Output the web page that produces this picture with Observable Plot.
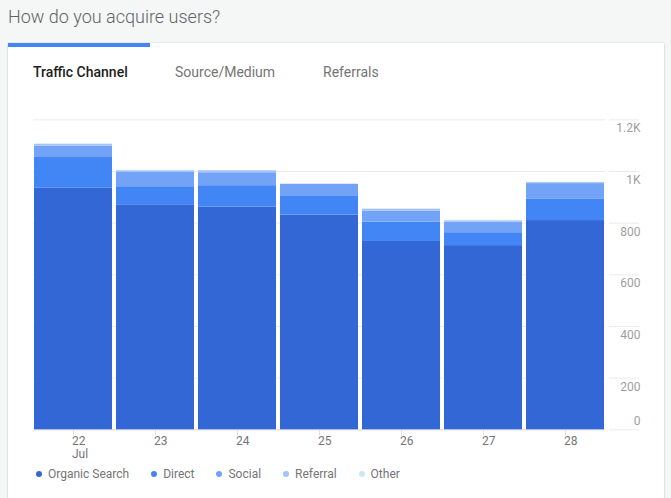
<!DOCTYPE html>
<html>
<head>
<meta charset="utf-8">
<script src="https://cdn.jsdelivr.net/npm/d3@7"></script>
<script src="https://cdn.jsdelivr.net/npm/@observablehq/plot@0.6"></script>
<style>
  html, body { margin: 0; padding: 0; }
  body { width: 671px; height: 498px; overflow: hidden; background: #f5f6f6; position: relative; font-family: Roboto, "Noto Sans", sans-serif; }
  #title { position: absolute; left: 8px; top: 8px; font-size: 18px; line-height: 18px; font-weight: 300; color: #5f6368; white-space: nowrap; }
  #card { position: absolute; left: 8px; top: 43px; width: 656px; height: 470px; background: #fff; box-shadow: 0 0 1px rgba(0,0,0,0.25), 0 1px 2px rgba(0,0,0,0.12); }
  #tabbar { position: absolute; left: 8px; top: 43px; width: 142px; height: 4px; background: #4285f4; }
  .tab { position: absolute; top: 65px; font-size: 14px; line-height: 14px; white-space: nowrap; color: #757575; }
  .tab.active { color: #212121; font-weight: 500; }
  #chart { position: absolute; left: 0; top: 100px; }
  #legend { position: absolute; left: 36px; top: 468px; display: flex; gap: 22px; font-size: 12px; line-height: 12px; color: #757575; }
  #legend .item { display: flex; align-items: center; white-space: nowrap; }
  #legend .dot { width: 6px; height: 6px; border-radius: 50%; margin-right: 6px; }
</style>
</head>
<body>
<div id="title">How do you acquire users?</div>
<div id="card"></div>
<div id="tabbar"></div>
<div class="tab active" style="left:33px">Traffic Channel</div>
<div class="tab" style="left:175px">Source/Medium</div>
<div class="tab" style="left:323px">Referrals</div>
<div id="chart"></div>
<div id="legend"></div>
<script>
const days = ["22", "23", "24", "25", "26", "27", "28"];
const month = "Jul";
const channels = ["Organic Search", "Direct", "Social", "Referral", "Other"];
const organic  = [935, 871, 862, 831, 729, 713, 810];
const direct   = [119,  70,  83,  75,  75,  50,  82];
const social   = [ 44,  57,  50,  44,  43,  41,  61];
const referral = [  7,   5,   8,   1,   7,   5,   4];
const other    = [  2,   1,   1,   0,   1,   1,   1];
const colors = ["#3367d6", "#4285f4", "#72a3f7", "#a3c3f9", "#c9e8f6"];
const yTicks = [0, 200, 400, 600, 800, 1000, 1200];
const yTickLabels = ["0", "200", "400", "600", "800", "1K", "1.2K"];

const series = [organic, direct, social, referral, other];
const rows = days.flatMap((d, i) => channels.map((c, j) => ({day: d, channel: c, value: series[j][i]})));
const yLabelRows = yTicks.map((v, i) => ({v, label: yTickLabels[i]}));
const xLabelRows = days.map((d, i) => ({d, label: i === 0 ? d + "\n" + month : d}));

const W = 671, H = 370;
const plot = Plot.plot({
  width: W, height: H,
  marginLeft: 32, marginRight: 65, marginTop: 19.3, marginBottom: 40.7,
  style: {fontFamily: "Roboto, sans-serif", background: "transparent", overflow: "visible", color: "#e0e0e0"},
  x: {domain: days, paddingInner: 4 / 82, paddingOuter: 2 / 82, tickSize: 6, tickFormat: () => "", label: null},
  y: {domain: [0, 1200], axis: null},
  color: {domain: channels, range: colors},
  marks: [
    Plot.ruleY(yTicks, {stroke: "#ebebeb", insetLeft: 1, insetRight: 1}),
    Plot.ruleY(yTicks, {stroke: "#ebebeb", insetLeft: 544, dx: 33}),
    Plot.ruleY([0], {stroke: "#e0e0e0", insetLeft: 1, insetRight: 1}),
    Plot.barY(rows, {x: "day", y: "value", fill: "channel"}),
    Plot.text(xLabelRows, {x: "d", text: "label", frameAnchor: "bottom", lineAnchor: "top", textAnchor: "start", dy: 6.5, dx: -1.5, fontSize: 12, lineHeight: 1.05, fill: "#757575"}),
    Plot.text(yLabelRows.filter(d => d.v > 0), {y: "v", text: "label", frameAnchor: "right", textAnchor: "end", lineAnchor: "top", dx: 34, dy: 4, fontSize: 12, fill: "#9e9e9e"}),
    Plot.text(yLabelRows.filter(d => d.v === 0), {y: "v", text: "label", frameAnchor: "right", textAnchor: "end", lineAnchor: "bottom", dx: 34, dy: -5, fontSize: 12, fill: "#9e9e9e"})
  ]
});
document.getElementById("chart").appendChild(plot);

const legend = document.getElementById("legend");
channels.forEach((c, i) => {
  const item = document.createElement("div");
  item.className = "item";
  const dot = document.createElement("span");
  dot.className = "dot";
  dot.style.background = colors[i];
  const label = document.createElement("span");
  label.textContent = c;
  item.appendChild(dot);
  item.appendChild(label);
  legend.appendChild(item);
});
</script>
</body>
</html>
